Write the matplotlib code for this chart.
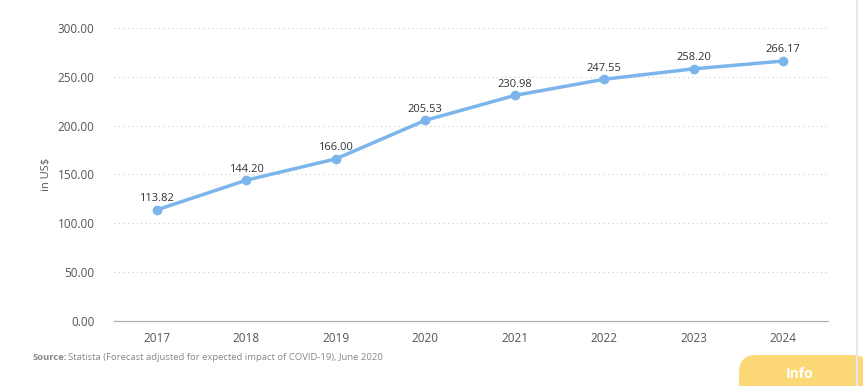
import matplotlib
matplotlib.use("Agg")
import matplotlib.pyplot as plt
from matplotlib.patches import FancyBboxPatch

years = ["2017", "2018", "2019", "2020", "2021", "2022", "2023", "2024"]
values = [113.82, 144.20, 166.00, 205.53, 230.98, 247.55, 258.20, 266.17]
yticks = [0, 50, 100, 150, 200, 250, 300]

plt.rcParams['font.family'] = ['Open Sans', 'DejaVu Sans']

fig = plt.figure(figsize=(8.63, 3.86), dpi=100)
ax = fig.add_axes([114/863, 1-321/386, (828-114)/863, (321-28)/386])
x = list(range(len(years)))
ax.plot(x, values, color='#7cb5ec', lw=2.5, marker='o', ms=6, zorder=3, clip_on=False)
for xi, v in zip(x, values):
    ax.annotate(f"{v:.2f}", (xi, v), xytext=(0, 4), textcoords='offset points',
                ha='center', va='bottom', fontsize=8, color='#333333')
ax.set_xlim(-0.48, 7.5)
ax.set_ylim(0, 300)
ax.set_yticks(yticks)
ax.set_yticklabels([f"{t:.2f}" for t in yticks])
ax.set_xticks(x)
ax.set_xticklabels(years)
ax.tick_params(axis='both', length=0, labelsize=8.5, labelcolor='#555555')
ax.tick_params(axis='y', pad=14)
ax.tick_params(axis='x', pad=8)
for s in ['top', 'right', 'left']:
    ax.spines[s].set_visible(False)
ax.spines['bottom'].set_color('#aaaaaa')
ax.yaxis.grid(True, linestyle=(0, (1, 3)), color='#cccccc', lw=0.8)
ax.set_axisbelow(True)
ax.set_ylabel("in US$", fontsize=8, color='#555555', labelpad=4)

fig.text(33/863, 1-358/386, "Source:", fontsize=6.8, color='#888888', fontweight='bold', va='center')
fig.text(68/863, 1-358/386, "Statista (Forecast adjusted for expected impact of COVID-19), June 2020",
         fontsize=6.8, color='#888888', va='center')

box = FancyBboxPatch((739/863, -0.05), (870-739)/863, (386-355)/386 + 0.05,
                     boxstyle="round,pad=0,rounding_size=0.02", transform=fig.transFigure,
                     facecolor='#fdd877', edgecolor='none', mutation_aspect=863/386)
fig.patches.append(box)
fig.text(800/863, 1-374/386, "Info", fontsize=10, color='white', fontweight='bold', ha='center', va='center')
fig.add_artist(plt.Line2D([857/863, 857/863], [0, 1], transform=fig.transFigure, color='#e6e6ee', lw=1.5))

fig.savefig("out.png", dpi=100)
